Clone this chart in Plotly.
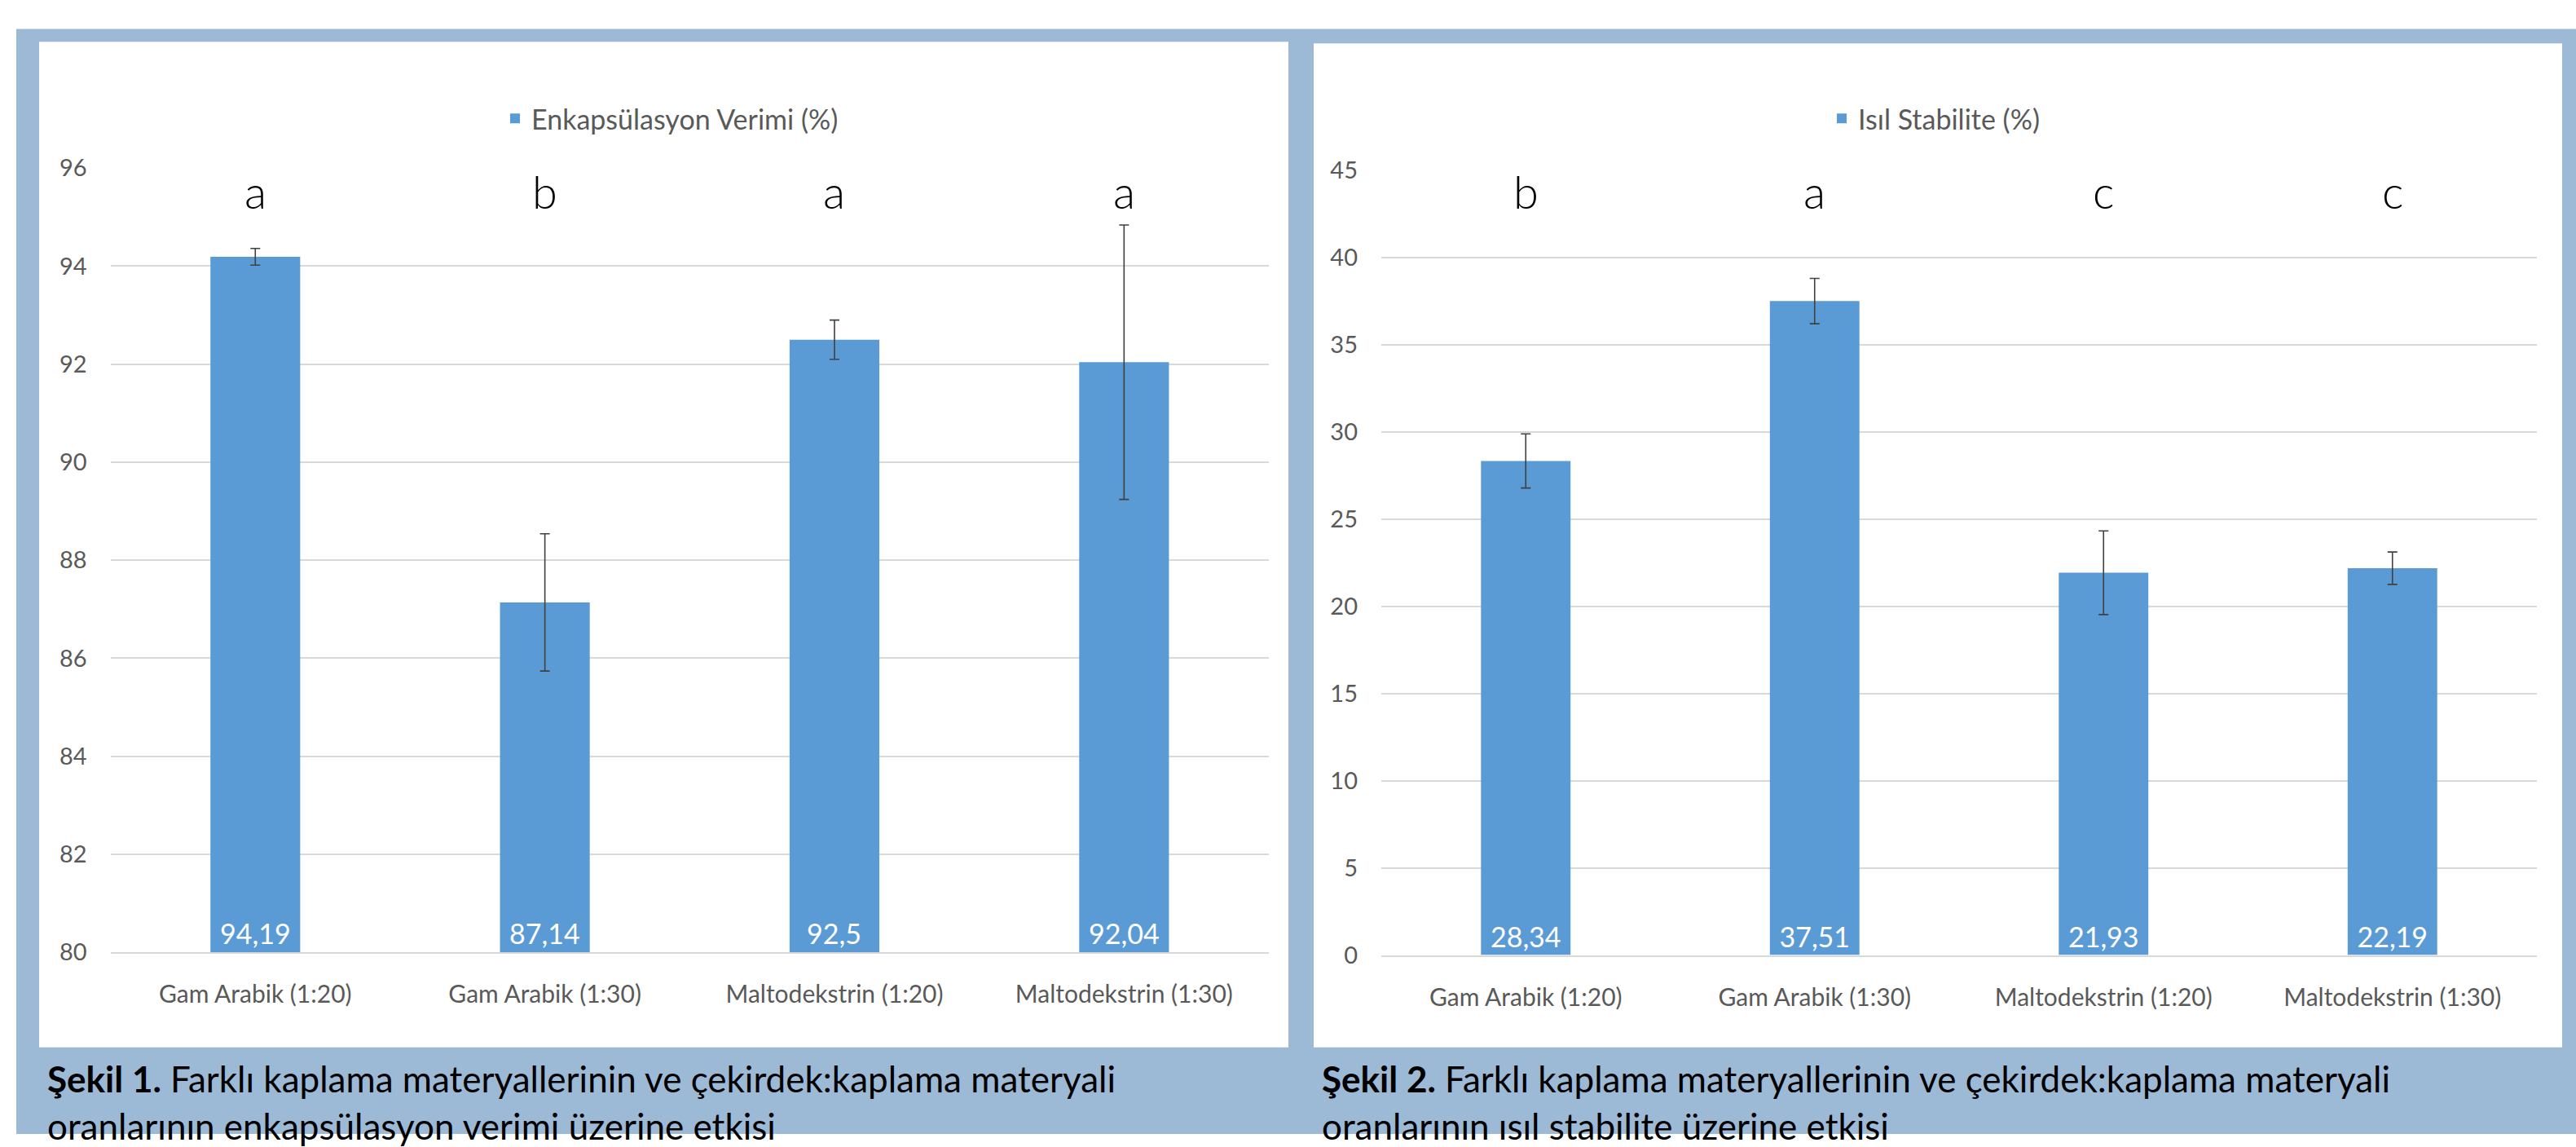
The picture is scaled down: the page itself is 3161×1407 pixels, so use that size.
import plotly.graph_objects as go

# ---------------- data ----------------
categories = ["Gam Arabik (1:20)", "Gam Arabik (1:30)", "Maltodekstrin (1:20)", "Maltodekstrin (1:30)"]

enkapsulasyon_verimi = [94.19, 87.14, 92.5, 92.04]
enkapsulasyon_err = [0.17, 1.4, 0.4, 2.8]
enkapsulasyon_letters = ["a", "b", "a", "a"]

isil_stabilite = [28.34, 37.51, 21.93, 22.19]
isil_err = [1.55, 1.3, 2.4, 0.93]
isil_letters = ["b", "a", "c", "c"]

y1_ticks = [80, 82, 84, 86, 88, 90, 92, 94, 96]
y2_ticks = [0, 5, 10, 15, 20, 25, 30, 35, 40, 45]

legend1_name = "Enkapsülasyon Verimi (%)"
legend2_name = "Isıl Stabilite (%)"
caption1 = ["<b>Şekil 1.</b> Farklı kaplama materyallerinin ve çekirdek:kaplama materyali",
            "oranlarının enkapsülasyon verimi üzerine etkisi"]
caption2 = ["<b>Şekil 2.</b> Farklı kaplama materyallerinin ve çekirdek:kaplama materyali",
            "oranlarının ısıl stabilite üzerine etkisi"]

# ---------------- layout constants ----------------
W, H = 3161, 1407
FONT = "Lato, 'Open Sans', sans-serif"
BAR = "#5B9BD5"
BLUE_BG = "#9CB9D6"
GRID = "#D9D9D9"
TXT = "#595959"
LETTER_SIZE = 56
VALUE_SIZE = 34


def px(x):
    return x / W


def py(y):
    return 1 - y / H


def fmt(v):
    return f"{v:g}".replace(".", ",")


fig = go.Figure()

fig.add_trace(go.Bar(
    x=categories, y=enkapsulasyon_verimi, name=legend1_name,
    marker=dict(color=BAR, line=dict(width=0)), width=0.31,
    error_y=dict(type="data", array=enkapsulasyon_err, visible=True,
                 color="#404040", thickness=1.6, width=6),
    xaxis="x", yaxis="y", legend="legend", showlegend=True,
))

fig.add_trace(go.Bar(
    x=categories, y=isil_stabilite, name=legend2_name,
    marker=dict(color=BAR, line=dict(width=0)), width=0.31,
    error_y=dict(type="data", array=isil_err, visible=True,
                 color="#404040", thickness=1.6, width=6),
    texttemplate="%{y}", textposition="inside", insidetextanchor="start",
    textangle=0, textfont=dict(color="white", size=VALUE_SIZE, family=FONT),
    xaxis="x2", yaxis="y2", legend="legend2", showlegend=True,
))

shapes = [
    dict(type="rect", xref="paper", yref="paper", x0=px(20), x1=1, y0=0, y1=py(17),
         fillcolor=BLUE_BG, line=dict(width=0), layer="below"),
    dict(type="rect", xref="paper", yref="paper", x0=px(48), x1=px(1581), y0=py(1298), y1=py(33),
         fillcolor="white", line=dict(width=0), layer="below"),
    dict(type="rect", xref="paper", yref="paper", x0=px(1612), x1=px(3144), y0=py(1298), y1=py(35),
         fillcolor="white", line=dict(width=0), layer="below"),
]

annotations = []
# value labels of chart 1 sit at the bottom of the (truncated) axis
for cat, v in zip(categories, enkapsulasyon_verimi):
    annotations.append(dict(x=cat, y=y1_ticks[0], xref="x", yref="y", text=fmt(v), showarrow=False,
                            font=dict(size=VALUE_SIZE, color="white", family=FONT),
                            xanchor="center", yanchor="bottom", yshift=1))
for cat, lt in zip(categories, enkapsulasyon_letters):
    annotations.append(dict(x=cat, y=95.24, xref="x", yref="y", text=lt, showarrow=False,
                            font=dict(size=LETTER_SIZE, color="black", family=FONT, weight=300),
                            xanchor="center", yanchor="middle", yshift=17))
for cat, lt in zip(categories, isil_letters):
    annotations.append(dict(x=cat, y=43.0, xref="x2", yref="y2", text=lt, showarrow=False,
                            font=dict(size=LETTER_SIZE, color="black", family=FONT, weight=300),
                            xanchor="center", yanchor="middle", yshift=17))

for x0, cap in ((56, caption1), (1620, caption2)):
    for i, line in enumerate(cap):
        annotations.append(dict(x=px(x0), y=py(1366 + 59 * i), xref="paper", yref="paper",
                                text=line, showarrow=False, xanchor="left", yanchor="bottom",
                                font=dict(size=44, color="black", family=FONT)))

xaxis_common = dict(type="category", showgrid=False, showline=True, linecolor=GRID, linewidth=2,
                    zeroline=False, ticks="", ticklabelstandoff=24, fixedrange=True,
                    tickfont=dict(size=30, color=TXT, family=FONT))
yaxis_common = dict(showgrid=True, gridcolor=GRID, gridwidth=2, showline=False, zeroline=False,
                    ticks="", ticklabelstandoff=28, fixedrange=True,
                    tickfont=dict(size=29, color=TXT, family=FONT))

fig.update_layout(
    width=W, height=H,
    margin=dict(l=0, r=0, t=0, b=0),
    paper_bgcolor="white", plot_bgcolor="rgba(0,0,0,0)",
    separators=",.",
    font=dict(family=FONT, color=TXT),
    shapes=shapes, annotations=annotations,
    xaxis=dict(domain=[px(135.6), px(1557)], anchor="y", **xaxis_common),
    yaxis=dict(domain=[py(1178.5), py(192)], anchor="x", range=[80, 96], tickvals=y1_ticks,
               **yaxis_common),
    xaxis2=dict(domain=[px(1695), px(3113)], anchor="y2", **xaxis_common),
    yaxis2=dict(domain=[py(1182), py(195)], anchor="x2", range=[0, 45], tickvals=y2_ticks,
                **yaxis_common),
    legend=dict(x=px(612), y=py(130), xanchor="left", yanchor="middle",
                bgcolor="rgba(0,0,0,0)", font=dict(size=34, color=TXT, family=FONT),
                orientation="h"),
    legend2=dict(x=px(2240), y=py(130), xanchor="left", yanchor="middle",
                 bgcolor="rgba(0,0,0,0)", font=dict(size=34, color=TXT, family=FONT),
                 orientation="h"),
)

fig.write_html("out.html")
